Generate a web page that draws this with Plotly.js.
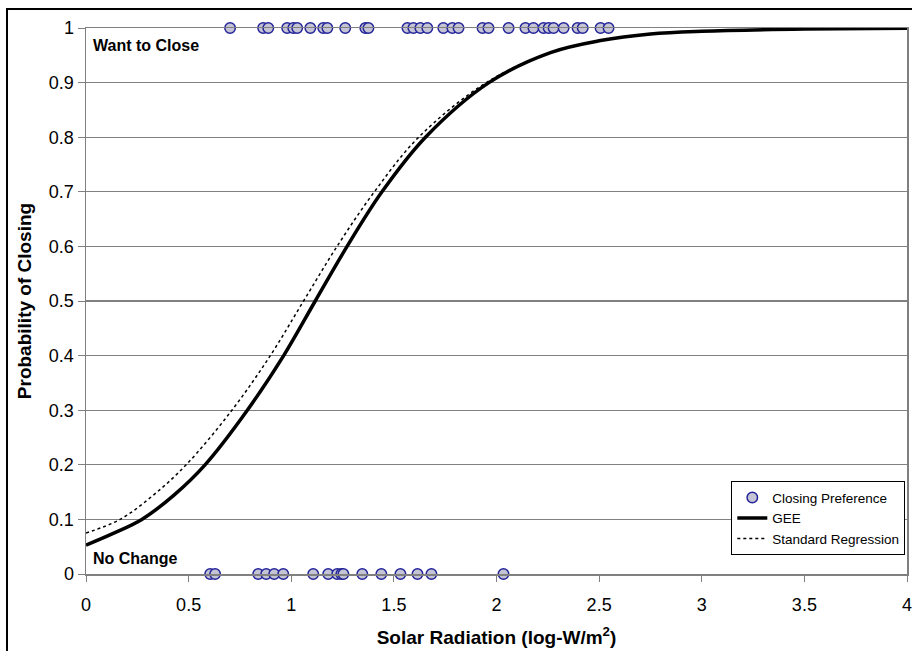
<!DOCTYPE html>
<html>
<head>
<meta charset="utf-8">
<script src="https://cdn.plot.ly/plotly-3.0.1.min.js"></script>
<style>
  html, body { margin: 0; padding: 0; background: #fff; }
  #wrap { position: relative; width: 912px; height: 651px; overflow: hidden; }
  #chart { width: 912px; height: 651px; }
  #frame { position: absolute; left: 6px; top: 8px; width: 1000px; height: 1000px;
           border-left: 2px solid #000; border-top: 2px solid #000; pointer-events: none; }
</style>
</head>
<body>
<div id="wrap"><div id="chart"></div><div id="frame"></div></div>
<script>
// Observed closing preferences (x = solar radiation, log-W/m2)
const closeX = [0.702, 0.863, 0.888, 0.980, 1.010, 1.029, 1.093, 1.156, 1.176, 1.263,
                1.361, 1.376, 1.566, 1.595, 1.629, 1.663, 1.741, 1.785, 1.815, 1.932,
                1.961, 2.059, 2.141, 2.180, 2.229, 2.254, 2.278, 2.327, 2.395, 2.420,
                2.507, 2.546];
const closeY = closeX.map(() => 1);
const noChangeX = [0.605, 0.629, 0.839, 0.878, 0.917, 0.961, 1.107, 1.180, 1.224, 1.244,
                   1.254, 1.346, 1.439, 1.532, 1.615, 1.683, 2.034];
const noChangeY = noChangeX.map(() => 0);

// GEE fitted curve
const geeX = [0, 0.13, 0.272, 0.43, 0.580, 0.786, 0.963, 1.117, 1.272, 1.442, 1.654, 1.963, 2.263, 2.507, 2.75, 3.0, 3.5, 4.0];
const geeY = [0.053, 0.074, 0.1, 0.145, 0.2, 0.3, 0.4, 0.5, 0.6, 0.7, 0.8, 0.9, 0.955, 0.977, 0.989, 0.994, 0.998, 0.9995];

// Standard regression curve
const stdX = [0, 0.166, 0.33, 0.488, 0.711, 0.898, 1.060, 1.223, 1.405, 1.621, 1.95, 2.263, 2.507, 2.75, 3.0, 3.5, 4.0];
const stdY = [0.075, 0.1, 0.145, 0.2, 0.3, 0.4, 0.5, 0.6, 0.7, 0.8, 0.9, 0.955, 0.977, 0.989, 0.994, 0.998, 0.9995];

const xTicks = [0, 0.5, 1, 1.5, 2, 2.5, 3, 3.5, 4];
const xTickText = ['0', '0.5', '1', '1.5', '2', '2.5', '3', '3.5', '4'];
const yTicks = [0, 0.1, 0.2, 0.3, 0.4, 0.5, 0.6, 0.7, 0.8, 0.9, 1];
const yTickText = ['0', '0.1', '0.2', '0.3', '0.4', '0.5', '0.6', '0.7', '0.8', '0.9', '1'];

const font = 'Liberation Sans, Arial, sans-serif';
const marker = { symbol: 'circle', size: 10.5, color: '#c4c4d4', line: { color: '#23239a', width: 1.5 } };

const traces = [
  { x: stdX, y: stdY, type: 'scatter', mode: 'lines', name: 'Standard Regression',
    line: { color: '#000', width: 1.5, dash: 'dot', shape: 'spline', smoothing: 1 }, legendrank: 3 },
  { x: geeX, y: geeY, type: 'scatter', mode: 'lines', name: 'GEE',
    line: { color: '#000', width: 3.5, shape: 'spline', smoothing: 1 }, legendrank: 2 },
  { x: closeX, y: closeY, type: 'scatter', mode: 'markers', name: 'Closing Preference',
    marker: marker, cliponaxis: false, legendrank: 1 },
  { x: noChangeX, y: noChangeY, type: 'scatter', mode: 'markers', name: 'Closing Preference',
    marker: marker, cliponaxis: false, showlegend: false }
];

const layout = {
  width: 912, height: 651,
  margin: { l: 86, r: 5, t: 28, b: 77 },
  paper_bgcolor: '#fff', plot_bgcolor: '#fff',
  font: { family: font, color: '#000', size: 18 },
  showlegend: true,
  xaxis: {
    range: [0, 4], tickvals: xTicks, ticktext: xTickText,
    automargin: false, ticklabeloverflow: 'allow',
    showgrid: false, zeroline: false,
    showline: true, linecolor: '#808080', linewidth: 1.5, mirror: true,
    ticks: 'outside', ticklen: 6, tickcolor: '#808080', tickwidth: 1,
    ticklabelstandoff: 8,
    tickfont: { family: font, size: 18 },
    title: { text: '<b>Solar Radiation (log-W/m<sup>2</sup>)</b>', font: { family: font, size: 19 }, standoff: 16 }
  },
  yaxis: {
    range: [0, 1], tickvals: yTicks, ticktext: yTickText,
    automargin: false, ticklabeloverflow: 'allow',
    showgrid: true, gridcolor: '#808080', gridwidth: 1.2, zeroline: false,
    showline: true, linecolor: '#808080', linewidth: 1.5, mirror: true,
    ticks: 'outside', ticklen: 7, tickcolor: '#808080', tickwidth: 1,
    tickfont: { family: font, size: 18 },
    title: { text: '<b>Probability of Closing</b>', font: { family: font, size: 19 }, standoff: 12 }
  },
  legend: {
    x: 0.786, y: 0.17, xanchor: 'left', yanchor: 'top',
    bgcolor: '#fff', bordercolor: '#000', borderwidth: 1,
    font: { family: font, size: 13.5 }, itemwidth: 30, tracegroupgap: 0,
    traceorder: 'normal'
  },
  annotations: [
    { text: '<b>Want to Close</b>', xref: 'paper', yref: 'paper', x: 0.006, y: 0.988,
      xanchor: 'left', yanchor: 'top', showarrow: false, font: { family: font, size: 16 } },
    { text: '<b>No Change</b>', xref: 'paper', yref: 'paper', x: 0.006, y: 0.01,
      xanchor: 'left', yanchor: 'bottom', showarrow: false, font: { family: font, size: 16 } }
  ]
};

Plotly.newPlot('chart', traces, layout, { displayModeBar: false, staticPlot: true });
</script>
</body>
</html>
